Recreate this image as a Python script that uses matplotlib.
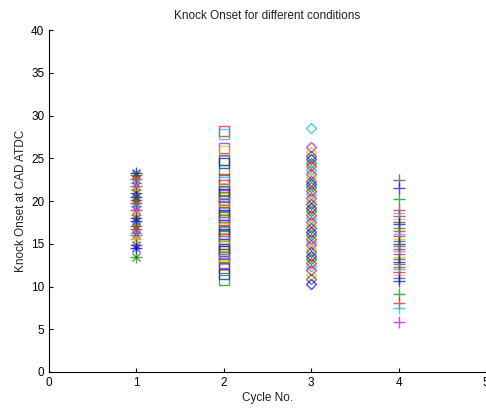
import matplotlib
matplotlib.use("Agg")
import matplotlib.pyplot as plt

plt.rcParams['font.family'] = ['Liberation Sans', 'DejaVu Sans']

# knock onset (CAD ATDC) per cycle
cycles = [1, 2, 3, 4]
cycle1 = [23.3, 23.0, 22.6, 22.1, 21.8, 21.3, 20.9, 20.5, 20.1, 19.8, 19.4, 18.9,
          18.4, 18.0, 17.7, 17.1, 16.7, 16.3, 16.0, 15.6, 14.8, 14.5, 13.4]
cycle2 = [28.2, 27.8, 26.2, 25.9, 24.8, 24.4, 23.6, 22.6, 22.2, 21.9, 21.5, 21.2,
          20.8, 20.5, 20.1, 19.8, 19.4, 19.1, 18.7, 18.4, 18.1, 17.8, 17.5, 17.2,
          16.9, 16.5, 16.2, 15.9, 15.6, 15.3, 15.0, 14.7, 14.4, 14.1, 13.8, 13.5,
          13.2, 12.8, 12.5, 12.2, 11.5, 10.8]
cycle3 = [28.6, 26.3, 25.7, 25.3, 24.9, 24.5, 24.1, 23.6, 23.2, 22.8, 22.4, 22.0,
          21.6, 21.2, 20.8, 20.4, 20.0, 19.6, 19.2, 18.8, 18.4, 18.0, 17.6, 17.2,
          16.8, 16.4, 16.0, 15.6, 15.2, 14.8, 14.4, 14.0, 13.6, 13.2, 12.8, 12.4,
          11.9, 11.3, 10.9, 10.3]
cycle4 = [22.5, 21.5, 20.2, 19.0, 18.6, 18.2, 17.9, 17.6, 17.3, 16.9, 16.5, 16.2,
          15.9, 15.6, 15.3, 15.0, 14.7, 14.4, 14.1, 13.8, 13.5, 13.2, 12.9, 12.6,
          12.3, 12.0, 11.7, 11.4, 11.0, 10.6, 9.1, 8.1, 7.5, 5.8]

# matlab-ish colour cycle: b g r c m y k
palette = [(0, 0, 1), (0, 0.5, 0), (1, 0, 0), (0, 0.75, 0.75),
           (0.75, 0, 0.75), (0.75, 0.75, 0), (0.25, 0.25, 0.25)]

fig = plt.figure(figsize=(4.86, 4.09), dpi=100)
ax = fig.add_axes([0.101, 0.0905, 0.899, 0.836])

# marker(s), size, colour offset; cycle 1 uses a matlab style asterisk (+ and x on top)
series = [(cycle1, ['+', 'x'], [8, 6], 0), (cycle2, ['s'], [6.5], 2),
          (cycle3, ['D'], [5.5], 3), (cycle4, ['+'], [8], 6)]
for cyc, (vals, mks, sizes, off) in zip(cycles, series):
    for i, v in enumerate(vals):
        col = palette[(i + off) % len(palette)]
        for mk, ms in zip(mks, sizes):
            ax.plot(cyc, v, marker=mk, ms=ms, mfc='none', mec=col, mew=1.0,
                    linestyle='none', alpha=0.7)

ax.set_xlim(0, 5)
ax.set_ylim(0, 40)
ax.set_xticks(range(0, 6))
ax.set_yticks(range(0, 41, 5))
ax.spines['top'].set_visible(False)
ax.spines['right'].set_visible(False)
ax.tick_params(direction='in', length=3, labelsize=8.5, colors='black')
ax.set_title('Knock Onset for different conditions', fontsize=8.5, color='#222222', pad=8)
ax.set_xlabel('Cycle No.', fontsize=8.5, color='#222222', labelpad=2)
ax.set_ylabel('Knock Onset at CAD ATDC', fontsize=8.5, color='#222222', labelpad=3)

fig.savefig('out.png', dpi=100)
